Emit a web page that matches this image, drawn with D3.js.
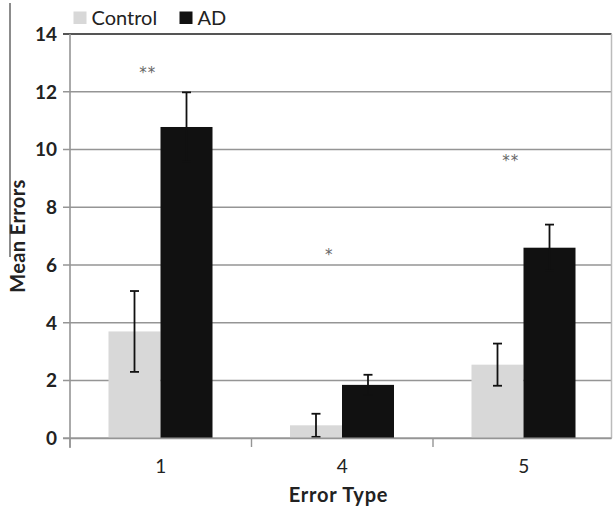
<!DOCTYPE html>
<html>
<head>
<meta charset="utf-8">
<script src="https://cdn.jsdelivr.net/npm/d3@7"></script>
<style>
  body { margin: 0; background: #fff; }
  svg { display: block; font-family: Lato, 'Open Sans', sans-serif; }
</style>
</head>
<body>
<script>
// data
const errorTypes = ['1', '4', '5'];
const groups = ['Control', 'AD'];
const controlMeans = [3.7, 0.45, 2.55];
const controlErr = [1.4, 0.4, 0.73];
const adMeans = [10.78, 1.85, 6.6];
const adErr = [1.2, 0.35, 0.8];
const stars = ['**', '*', '**'];
const starLevels = [12.8, 6.5, 9.75];
const yTicks = [0, 2, 4, 6, 8, 10, 12, 14];

const colors = { Control: '#d8d8d8', AD: '#111111' };

const W = 613, H = 507;
const svg = d3.select('body').append('svg')
    .attr('width', W)
    .attr('height', H);

const y = d3.scaleLinear().domain([0, 14]).range([438.3, 34]);
const x0 = d3.scaleBand().domain(errorTypes).range([70, 614.5]);
const x1 = d3.scaleBand().domain(groups).range([38.5, 142.5]);
const plotRight = 611.5;

// rows for the bars
const rows = [];
errorTypes.forEach((t, i) => {
    rows.push({ type: t, group: 'Control', mean: controlMeans[i], err: controlErr[i] });
    rows.push({ type: t, group: 'AD', mean: adMeans[i], err: adErr[i] });
});

// odd dark line at far left of the scan
svg.append('line')
    .attr('x1', 10).attr('x2', 10)
    .attr('y1', 3).attr('y2', 257)
    .attr('stroke', '#666').attr('stroke-width', 1.5);

// gridlines
svg.append('g')
    .selectAll('line')
    .data(yTicks)
    .enter().append('line')
    .attr('x1', 63)
    .attr('x2', plotRight)
    .attr('y1', d => y(d))
    .attr('y2', d => y(d))
    .attr('stroke', d => d === 14 ? '#555' : '#959595')
    .attr('stroke-width', d => d === 14 ? 2 : 1.6);

// right border
svg.append('line')
    .attr('x1', plotRight).attr('x2', plotRight)
    .attr('y1', y(14)).attr('y2', y(0))
    .attr('stroke', '#bbb').attr('stroke-width', 1.5);

// y tick labels
svg.append('g')
    .selectAll('text')
    .data(yTicks)
    .enter().append('text')
    .attr('x', 57)
    .attr('y', d => y(d))
    .attr('dy', '0.36em')
    .attr('text-anchor', 'end')
    .style('font-size', '19px')
    .style('font-weight', 'bold')
    .attr('fill', '#222')
    .text(d => d);

// bars
svg.append('g')
    .selectAll('rect')
    .data(rows)
    .enter().append('rect')
    .attr('x', d => x0(d.type) + x1(d.group))
    .attr('width', x1.bandwidth())
    .attr('y', d => y(d.mean))
    .attr('height', d => y(0) - y(d.mean))
    .attr('fill', d => colors[d.group]);

// error bars
const eb = svg.append('g')
    .selectAll('g')
    .data(rows)
    .enter().append('g')
    .attr('stroke', '#111')
    .attr('stroke-width', 1.8);
const cx = d => x0(d.type) + x1(d.group) + x1.bandwidth() / 2;
eb.append('line')
    .attr('x1', cx).attr('x2', cx)
    .attr('y1', d => y(d.mean + d.err))
    .attr('y2', d => y(Math.max(0, d.mean - d.err)));
eb.append('line')
    .attr('x1', d => cx(d) - 4.5).attr('x2', d => cx(d) + 4.5)
    .attr('y1', d => y(d.mean + d.err))
    .attr('y2', d => y(d.mean + d.err));
eb.append('line')
    .attr('x1', d => cx(d) - 4.5).attr('x2', d => cx(d) + 4.5)
    .attr('y1', d => y(Math.max(0, d.mean - d.err)))
    .attr('y2', d => y(Math.max(0, d.mean - d.err)));

// axes lines
svg.append('line')
    .attr('x1', 70).attr('x2', 70)
    .attr('y1', y(14)).attr('y2', 448)
    .attr('stroke', '#959595').attr('stroke-width', 1.6);
svg.append('line')
    .attr('x1', 63).attr('x2', plotRight)
    .attr('y1', y(0)).attr('y2', y(0))
    .attr('stroke', '#959595').attr('stroke-width', 1.8);
svg.append('g')
    .selectAll('line')
    .data(errorTypes)
    .enter().append('line')
    .attr('x1', d => x0(d)).attr('x2', d => x0(d))
    .attr('y1', y(0)).attr('y2', 447)
    .attr('stroke', '#959595').attr('stroke-width', 1.4);

// x tick labels
svg.append('g')
    .selectAll('text')
    .data(errorTypes)
    .enter().append('text')
    .attr('x', d => x0(d) + x0.bandwidth() / 2)
    .attr('y', 473)
    .attr('text-anchor', 'middle')
    .style('font-size', '19px')
    .attr('fill', '#222')
    .text(d => d);

// significance stars
svg.append('g')
    .selectAll('text')
    .data(errorTypes)
    .enter().append('text')
    .attr('x', (d, i) => x0(d) + x0.bandwidth() / 2 - 13)
    .attr('y', (d, i) => y(starLevels[i]))
    .attr('dy', '0.6em')
    .attr('text-anchor', 'middle')
    .style('font-family', "'DejaVu Sans', sans-serif")
    .style('font-size', '15px')
    .style('letter-spacing', '1px')
    .attr('fill', '#666')
    .text((d, i) => stars[i]);

// axis titles
svg.append('text')
    .attr('x', 338.5)
    .attr('y', 502)
    .attr('text-anchor', 'middle')
    .style('font-size', '20px')
    .style('font-weight', 'bold')
    .style('letter-spacing', '0.8px')
    .attr('fill', '#222')
    .text('Error Type');

svg.append('text')
    .attr('transform', 'translate(25, 236) rotate(-90)')
    .attr('text-anchor', 'middle')
    .style('font-size', '20px')
    .style('font-weight', 'bold')
    .style('letter-spacing', '0.4px')
    .attr('fill', '#222')
    .text('Mean Errors');

// legend
const legend = svg.append('g')
    .selectAll('g')
    .data(groups)
    .enter().append('g')
    .attr('transform', (d, i) => `translate(${i === 0 ? 73.5 : 179.5}, 11.5)`);
legend.append('rect')
    .attr('width', 13)
    .attr('height', 12.5)
    .attr('fill', d => colors[d]);
legend.append('text')
    .attr('x', 18)
    .attr('y', 13)
    .style('font-size', '20px')
    .attr('fill', '#222')
    .text(d => d);
</script>
</body>
</html>
